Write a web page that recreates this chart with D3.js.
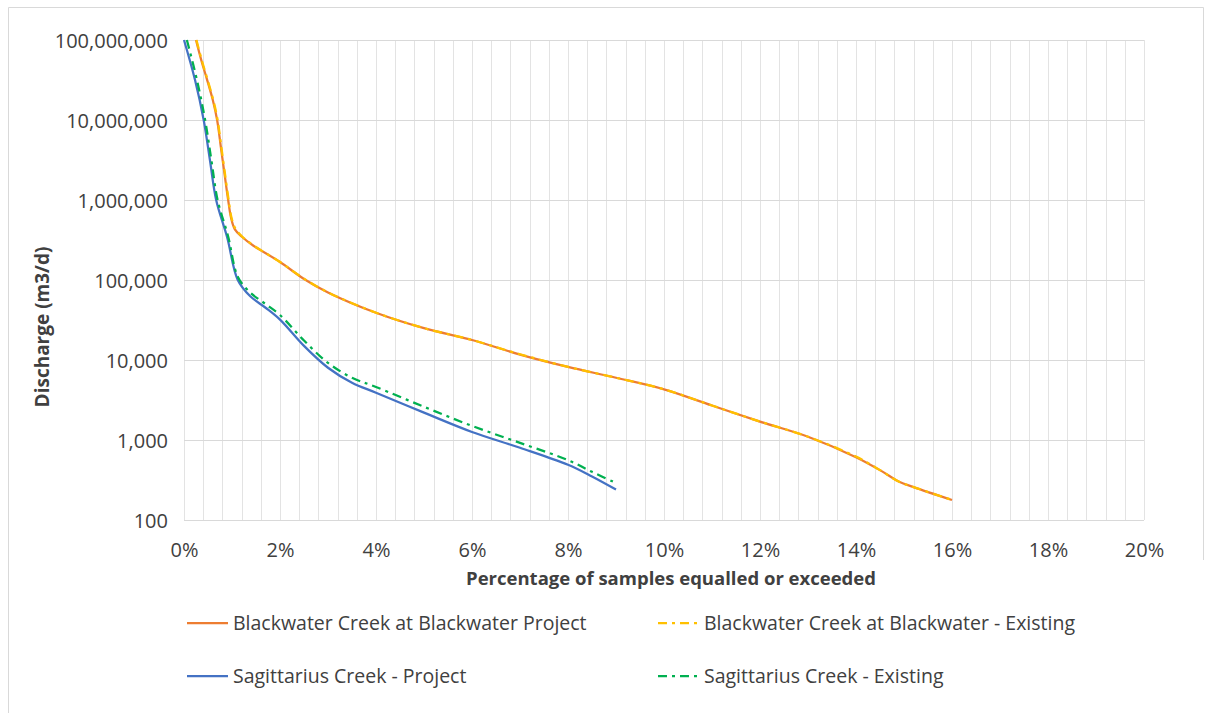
<!DOCTYPE html>
<html>
<head>
<meta charset="utf-8">
<script src="https://cdn.jsdelivr.net/npm/d3@7"></script>
<style>
  html, body { margin: 0; padding: 0; background: #fff; }
  svg { display: block; }
  text { font-family: "Open Sans", "Liberation Sans", sans-serif; fill: #404040; }
</style>
</head>
<body>
<svg id="chart" width="1210" height="713"></svg>
<script>
// ---- data (x = % of samples equalled or exceeded, y = discharge m3/d) ----
const blackwaterProjectX = [0.25, 0.36, 0.48, 0.60, 0.69, 0.77, 0.85, 0.92, 0.98, 1.06, 1.20, 1.44, 2.0, 2.5, 3.0, 4.0, 5.0, 6.0, 7.0, 8.0, 9.0, 10.0, 11.0, 12.0, 13.0, 14.0, 14.5, 14.9, 15.2, 16.0];
const blackwaterProjectY = [1e8, 5.6e7, 3.2e7, 1.78e7, 1e7, 4.5e6, 2.0e6, 1e6, 6.0e5, 4.3e5, 3.5e5, 2.7e5, 1.68e5, 1.03e5, 7.0e4, 3.9e4, 2.5e4, 1.78e4, 1.17e4, 8.2e3, 6.0e3, 4.3e3, 2.7e3, 1.7e3, 1.1e3, 6.1e2, 4.2e2, 3.0e2, 2.58e2, 1.78e2];

const blackwaterExistingX = [0.26, 0.37, 0.49, 0.61, 0.70, 0.78, 0.86, 0.93, 0.99, 1.07, 1.21, 1.45, 2.0, 2.5, 3.0, 4.0, 5.0, 6.0, 7.0, 8.0, 9.0, 10.0, 11.0, 12.0, 13.0, 14.0, 14.5, 14.9, 15.2, 16.0];
const blackwaterExistingY = [1e8, 5.6e7, 3.2e7, 1.78e7, 1e7, 4.5e6, 2.0e6, 1e6, 6.0e5, 4.4e5, 3.5e5, 2.7e5, 1.68e5, 1.04e5, 7.0e4, 3.9e4, 2.5e4, 1.78e4, 1.18e4, 8.2e3, 6.0e3, 4.3e3, 2.7e3, 1.7e3, 1.1e3, 6.2e2, 4.2e2, 3.0e2, 2.58e2, 1.78e2];

const sagittariusProjectX = [0.0, 0.23, 0.41, 0.54, 0.67, 0.9, 1.12, 1.375, 1.7, 2.0, 2.5, 3.0, 3.5, 4.0, 5.0, 6.0, 7.0, 8.0, 8.5, 9.0];
const sagittariusProjectY = [1e8, 3.16e7, 1e7, 3.16e6, 1e6, 3.4e5, 1.0e5, 6.3e4, 4.5e4, 3.2e4, 1.5e4, 8.0e3, 5.2e3, 3.9e3, 2.2e3, 1.26e3, 8.0e2, 4.9e2, 3.5e2, 2.4e2];

const sagittariusExistingX = [0.06, 0.27, 0.44, 0.57, 0.70, 0.92, 1.12, 1.375, 1.7, 2.0, 2.5, 3.0, 3.5, 4.0, 5.0, 6.0, 7.0, 8.0, 8.5, 9.0];
const sagittariusExistingY = [1e8, 3.16e7, 1e7, 3.16e6, 1e6, 3.5e5, 1.1e5, 7.0e4, 5.0e4, 3.65e4, 1.75e4, 9.2e3, 6.0e3, 4.6e3, 2.6e3, 1.5e3, 9.2e2, 5.6e2, 4.0e2, 2.9e2];

const seriesNames = ["Blackwater Creek at Blackwater Project", "Blackwater Creek at Blackwater - Existing", "Sagittarius Creek - Project", "Sagittarius Creek - Existing"];
const xTickValues = [0, 2, 4, 6, 8, 10, 12, 14, 16, 18, 20];
const yTickValues = [100, 1000, 10000, 100000, 1000000, 10000000, 100000000];
const xTitle = "Percentage of samples equalled or exceeded";
const yTitle = "Discharge (m3/d)";

// ---- layout ----
const svg = d3.select("#chart");
const M = { left: 184, right: 1144, top: 40, bottom: 520 };
const x = d3.scaleLinear().domain([0, 20]).range([M.left, M.right]);
const y = d3.scaleLog().domain([100, 1e8]).range([M.bottom, M.top]);

// outer chart frame
svg.append("path")
  .attr("d", "M8.5,713 L8.5,7.5 L1203.5,7.5 L1203.5,560")
  .attr("fill", "none").attr("stroke", "#d9d9d9").attr("stroke-width", 1);

// minor vertical gridlines every 0.4%
const gridX = d3.range(0, 20.0001, 0.4);
svg.append("g").selectAll("line").data(gridX).join("line")
  .attr("x1", d => Math.round(x(d)) + 0.5).attr("x2", d => Math.round(x(d)) + 0.5)
  .attr("y1", M.top).attr("y2", M.bottom)
  .attr("stroke", "#e3e3e3").attr("stroke-width", 1);

// horizontal gridlines at decades
svg.append("g").selectAll("line").data(yTickValues).join("line")
  .attr("x1", M.left).attr("x2", M.right)
  .attr("y1", d => Math.round(y(d)) + 0.5).attr("y2", d => Math.round(y(d)) + 0.5)
  .attr("stroke", "#d9d9d9").attr("stroke-width", 1);

// axes (labels only, via d3 axis)
const fmtY = d3.format(",");
const yAxis = svg.append("g").attr("transform", `translate(${M.left - 16},0)`)
  .call(d3.axisLeft(y).tickValues(yTickValues).tickFormat(fmtY).tickSize(0).tickPadding(0));
yAxis.select(".domain").remove();
yAxis.selectAll("text").attr("font-size", 20).attr("font-family", "Open Sans").attr("fill", "#404040").attr("dy", "0.35em");

const xAxis = svg.append("g").attr("transform", `translate(0,${M.bottom})`)
  .call(d3.axisBottom(x).tickValues(xTickValues).tickFormat(d => d + "%").tickSize(0).tickPadding(0));
xAxis.select(".domain").remove();
xAxis.selectAll("text").attr("font-size", 20).attr("font-family", "Open Sans").attr("fill", "#404040").attr("y", 37).attr("dy", 0);

// axis titles
svg.append("text").attr("x", 671).attr("y", 585)
  .attr("text-anchor", "middle").attr("font-size", 18.5).attr("font-weight", "bold").attr("fill", "#262626")
  .text(xTitle);
svg.append("text").attr("transform", "translate(49,327) rotate(-90)")
  .attr("text-anchor", "middle").attr("font-size", 19).attr("font-weight", "bold").attr("fill", "#262626")
  .text(yTitle);

// series
const zip = (xs, ys) => xs.map((v, i) => [v, ys[i]]);
const series = [
  { name: seriesNames[0], data: zip(blackwaterProjectX, blackwaterProjectY), color: "#ED7D31", dash: null },
  { name: seriesNames[2], data: zip(sagittariusProjectX, sagittariusProjectY), color: "#4472C4", dash: null },
  { name: seriesNames[1], data: zip(blackwaterExistingX, blackwaterExistingY), color: "#FFC000", dash: "9,5,3,5" },
  { name: seriesNames[3], data: zip(sagittariusExistingX, sagittariusExistingY), color: "#00B050", dash: "9,5,3,5" }
];
const line = d3.line().x(d => x(d[0])).y(d => y(d[1])).curve(d3.curveCatmullRom.alpha(0.5));
svg.append("g").selectAll("path").data(series).join("path")
  .attr("d", d => line(d.data))
  .attr("fill", "none")
  .attr("stroke", d => d.color)
  .attr("stroke-width", 2.25)
  .attr("stroke-linejoin", "round")
  .attr("stroke-dasharray", d => d.dash);

// legend
const legendItems = [
  { s: series[0], lx: 187, ty: 623 },
  { s: series[2], lx: 658, ty: 623 },
  { s: series[1], lx: 187, ty: 676 },
  { s: series[3], lx: 658, ty: 676 }
];
const lg = svg.append("g").selectAll("g").data(legendItems).join("g");
lg.append("line")
  .attr("x1", d => d.lx).attr("x2", d => d.lx + 41)
  .attr("y1", d => d.ty).attr("y2", d => d.ty)
  .attr("stroke", d => d.s.color).attr("stroke-width", 2.25)
  .attr("stroke-dasharray", d => d.s.dash);
lg.append("text")
  .attr("x", d => d.lx + 46).attr("y", d => d.ty).attr("dy", "0.35em")
  .attr("font-size", 19.5).attr("fill", "#404040")
  .text(d => d.s.name);
</script>
</body>
</html>
